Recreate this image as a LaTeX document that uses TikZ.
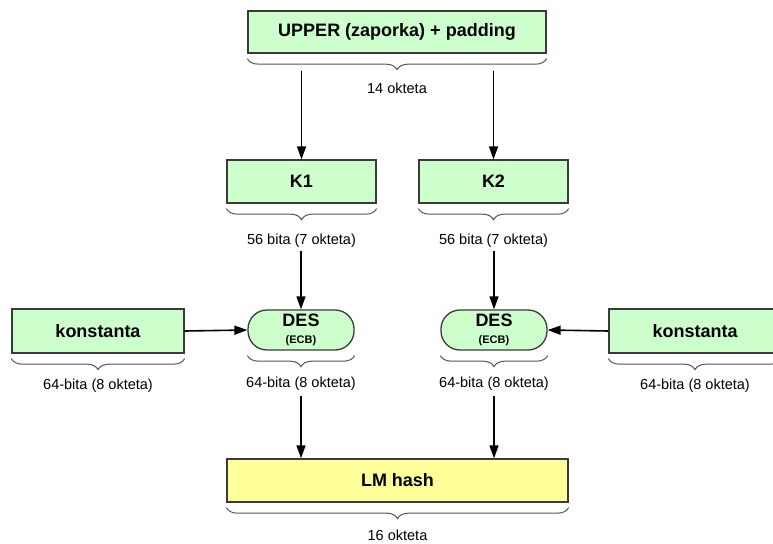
\documentclass[tikz,border=0pt]{standalone}
\usepackage{fontspec}
\setmainfont{Liberation Sans}
\usetikzlibrary{arrows.meta,decorations.pathreplacing,calc}

\definecolor{boxgreen}{HTML}{CCFFCC}
\definecolor{boxyellow}{HTML}{FFFF99}
\definecolor{edge}{HTML}{3A3A3A}
\definecolor{bracegray}{HTML}{555555}

\tikzset{
  block/.style={draw=edge, line width=1.3pt, fill=boxgreen, rectangle,
    inner sep=0pt, font=\fontsize{18}{20}\selectfont\bfseries},
  cipher/.style={block, rounded corners=19pt},
  result/.style={block, fill=boxyellow},
  sizebrace/.style={draw=bracegray, line width=1pt,
    decorate, decoration={brace, mirror, amplitude=11pt}},
  sizelabel/.style={font=\fontsize{14.5}{16}\selectfont, inner sep=0pt},
  flow/.style={line width=1.6pt, -{Triangle[length=13pt,width=9pt]}}
}

\begin{document}
\begin{tikzpicture}[x=1pt,y=-1pt]
\useasboundingbox (0,0) rectangle (773,543);

% key material
\node[block, minimum width=298pt, minimum height=42pt] (upper) at (397,32) {UPPER (zaporka) + padding};
\node[block, minimum width=149pt, minimum height=43pt] (k1) at (301.5,181.5) {K1};
\node[block, minimum width=149pt, minimum height=43pt] (k2) at (493.5,181.5) {K2};

% DES stages and constants
\node[cipher, minimum width=106pt, minimum height=40pt, align=center] (des1) at (301,330)
  {DES\\[-3pt]{\fontsize{11}{12}\selectfont (ECB)}};
\node[cipher, minimum width=106pt, minimum height=40pt, align=center] (des2) at (494,330)
  {DES\\[-3pt]{\fontsize{11}{12}\selectfont (ECB)}};
\node[block, minimum width=172pt, minimum height=44pt] (c1) at (98,331) {konstanta};
\node[block, minimum width=172pt, minimum height=44pt] (c2) at (695,331) {konstanta};

% output
\node[result, minimum width=341pt, minimum height=43pt] (lm) at (397.5,480.5) {LM hash};

% size braces and labels
\foreach \n/\t/\d in {upper/14 okteta/35, k1/56 bita (7 okteta)/37, k2/56 bita (7 okteta)/37,
                   des1/64-bita (8 okteta)/33, des2/64-bita (8 okteta)/33,
                   c1/64-bita (8 okteta)/32, c2/64-bita (8 okteta)/32, lm/16 okteta/33}{
  \draw[sizebrace] ([yshift=-5pt]\n.south west) -- ([yshift=-5pt]\n.south east);
  \node[sizelabel] (\n-size) at ([yshift=-\d pt]\n.south) {\t};
}

% data flow
\draw[flow] ([yshift=-17pt]upper.south -| k1.north) -- (k1.north);
\draw[flow] ([yshift=-17pt]upper.south -| k2.north) -- (k2.north);
\draw[flow] ([yshift=-47pt]k1.south -| des1.north) -- (des1.north);
\draw[flow] ([yshift=-47pt]k2.south -| des2.north) -- (des2.north);
\draw[flow] (c1.east) -- (des1.west);
\draw[flow] (c2.west) -- (des2.east);
\draw[flow] ([yshift=-45pt]des1.south) -- (des1.south |- lm.north);
\draw[flow] ([yshift=-45pt]des2.south) -- (des2.south |- lm.north);
\end{tikzpicture}
\end{document}
